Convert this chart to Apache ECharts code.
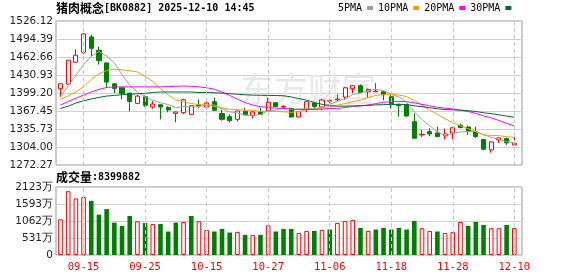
<!DOCTYPE html>
<html><head><meta charset="utf-8">
<script src="https://cdn.jsdelivr.net/npm/echarts@6/dist/echarts.min.js"></script>
<style>html,body{margin:0;padding:0;background:#fff}#c{width:578px;height:276px}</style>
</head><body><div id="c"></div>
<script>
const dates = ['09-10','09-11','09-12','09-15','09-16','09-17','09-18','09-19','09-22','09-23',
'09-24','09-25','09-26','09-29','09-30','10-09','10-10','10-13','10-14','10-15',
'10-16','10-17','10-20','10-21','10-22','10-23','10-24','10-27','10-28','10-29',
'10-30','10-31','11-03','11-04','11-05','11-06','11-07','11-10','11-11','11-12',
'11-13','11-14','11-17','11-18','11-19','11-20','11-21','11-24','11-25','11-26',
'11-27','11-28','12-01','12-02','12-03','12-04','12-05','12-08','12-09','12-10'];
const tickDates = ['09-15','09-25','10-15','10-27','11-06','11-18','11-28','12-10'];
const priceTicks = ['1272.27','1304.00','1335.73','1367.45','1399.20','1430.93','1462.66','1494.39','1526.12'];
const volTicks = ['0','531万','1062万','1593万','2123万'];
const priceMin = 1272.27, priceMax = 1526.12, volMax = 2123;

const open = [1406.7,1414.9,1453.5,1471.1,1498.0,1474.6,1452.3,1415.4,1408.4,1399.0,
1380.9,1392.6,1374.5,1378.5,1373.9,1363.3,1364.5,1361.6,1378.0,1374.5,
1383.8,1363.3,1357.5,1352.8,1366.8,1359.8,1365.7,1367.4,1382.1,1374.5,
1372.1,1356.9,1370.9,1381.5,1374.5,1385.0,1387.3,1392.0,1406.7,1411.9,
1401.4,1401.4,1401.4,1392.6,1379.1,1378.0,1348.7,1325.3,1331.1,1328.8,
1323.5,1328.8,1342.2,1339.3,1330.5,1317.1,1298.9,1316.5,1318.8,1307.7];
const close = [1415.4,1457.0,1465.8,1503.3,1478.1,1456.4,1418.4,1407.3,1398.5,1384.4,
1393.8,1377.4,1379.7,1374.5,1369.2,1365.7,1387.3,1376.8,1376.8,1381.5,
1368.6,1352.8,1350.4,1367.4,1361.0,1365.7,1361.6,1382.6,1375.6,1375.6,
1356.9,1366.3,1383.8,1375.6,1386.8,1386.2,1388.4,1408.4,1411.9,1400.2,
1405.5,1402.6,1396.1,1380.3,1376.8,1358.6,1319.4,1326.4,1327.0,1322.3,
1327.0,1338.1,1338.1,1331.1,1322.3,1300.1,1312.9,1320.0,1311.2,1310.6];
const low = [1392.0,1414.3,1453.0,1468.2,1464.0,1449.4,1407.8,1399.0,1387.9,1366.8,
1380.0,1374.5,1371.5,1352.8,1365.1,1347.5,1362.2,1361.0,1372.1,1369.8,
1367.4,1350.4,1347.5,1349.3,1359.8,1354.5,1360.4,1365.7,1374.5,1370.4,
1356.3,1356.3,1365.1,1372.1,1368.6,1381.5,1385.0,1386.8,1399.0,1399.0,
1390.9,1400.8,1386.2,1372.1,1357.5,1357.5,1319.4,1321.2,1322.9,1321.7,
1317.6,1317.6,1337.6,1325.3,1320.0,1298.3,1294.2,1311.2,1307.7,1307.7];
const high = [1416.0,1457.6,1475.8,1505.0,1502.1,1481.0,1452.5,1416.0,1409.0,1399.6,
1395.6,1394.9,1385.0,1379.0,1375.6,1366.2,1389.1,1377.0,1387.9,1385.0,
1390.9,1369.8,1361.6,1368.6,1373.3,1366.8,1373.3,1390.9,1383.2,1377.4,
1373.3,1367.4,1385.0,1382.7,1389.1,1389.1,1396.7,1410.2,1413.1,1414.3,
1407.2,1416.6,1402.6,1397.9,1380.3,1380.3,1363.3,1334.0,1337.0,1339.9,
1336.4,1338.5,1345.2,1341.7,1339.9,1318.2,1314.7,1320.5,1320.6,1322.3];

const ma5 = [1393,1412,1430,1449,1463.9,1472.1,1464.4,1452.7,1431.7,1413.0,
1400.5,1392.3,1386.8,1382.0,1378.9,1373.3,1375.3,1374.7,1375.2,1377.6,
1378.2,1371.3,1366.0,1364.1,1360.0,1359.5,1361.2,1367.7,1369.3,1372.2,
1370.5,1371.4,1371.6,1371.6,1373.9,1379.7,1384.2,1389.1,1396.3,1399.0,
1402.9,1405.7,1403.3,1396.9,1392.3,1382.9,1366.2,1352.3,1341.6,1330.7,
1324.4,1328.2,1330.5,1331.3,1331.3,1325.9,1320.9,1317.3,1313.3,1311.0];
const ma10 = [1388,1394,1401,1410,1423,1433,1439,1441,1440,1438.5,
1436.3,1428.3,1419.7,1406.9,1396.0,1386.9,1383.8,1380.7,1378.6,1378.3,
1375.8,1373.3,1370.4,1369.7,1368.8,1368.8,1366.3,1366.8,1366.7,1366.1,
1365.0,1366.3,1369.7,1370.5,1373.1,1375.1,1377.8,1380.4,1384.0,1386.5,
1391.3,1394.9,1396.2,1396.6,1395.6,1392.9,1386.0,1377.8,1369.3,1361.5,
1353.7,1347.2,1341.4,1336.5,1331.0,1325.2,1324.5,1323.9,1322.3,1321.1];
const ma20 = [1378,1384,1390,1395.5,1401,1405.5,1409,1410,1410,1410,
1410,1410,1410,1410,1410.5,1411,1411.5,1411,1410,1408.4,
1406.0,1400.8,1395.0,1388.3,1382.4,1377.9,1375.0,1373.8,1372.6,1372.2,
1370.4,1369.8,1370.0,1370.1,1370.9,1372.0,1372.0,1373.6,1375.4,1376.3,
1378.1,1380.6,1382.9,1383.6,1384.3,1384.0,1381.9,1379.1,1376.6,1374.0,
1372.5,1371.1,1368.8,1366.6,1363.3,1359.0,1355.3,1350.8,1345.8,1341.3];
const ma30 = [1372,1376,1381.5,1385.5,1388.5,1391.4,1393.8,1394.9,1396.1,1397.3,
1397.9,1398.5,1400.2,1401,1401,1401,1401,1401,1400,1400,
1399.6,1399,1398,1397,1396,1395.5,1395.2,1395,1394.7,1394.3,
1392.3,1389.3,1386.6,1382.3,1379.3,1376.9,1375.9,1376.0,1376.4,1377.0,
1377.3,1378.2,1378.7,1378.9,1379.2,1378.9,1376.7,1375.0,1373.3,1371.4,
1370.0,1369.5,1369.1,1367.9,1366.6,1364.4,1362.8,1360.7,1358.5,1356.4];

const vol = [1114,1992,1765,1806,1692,1259,1434,1011,908,1218,
1053,1001,970,970,733,1011,1032,1218,1053,784,
733,815,702,722,630,619,630,929,733,815,
815,691,753,753,784,795,1001,1063,1094,846,
753,795,846,795,846,795,1063,836,753,733,
691,722,1032,908,1032,939,836,836,939,840];
const volUp = [1,1,1,1,0,0,0,0,0,0,
1,0,1,0,0,0,1,0,1,1,
0,0,0,1,0,1,0,1,0,0,
0,1,1,0,1,0,1,1,1,0,
1,0,0,0,0,0,0,1,1,0,
1,1,1,0,0,0,1,1,0,1];

const maNames = ['5PMA','10PMA','20PMA','30PMA'];
const maColors = ['#a0a0a0','#f2a100','#ff00ff','#006b35'];
const maData = [ma5, ma10, ma20, ma30];

const RED = '#ff0000', GREEN = '#008000';
const monoFont = 'DejaVu Sans Mono';
const cjkFont = 'Noto Sans CJK SC';

const chart = echarts.init(document.getElementById('c'), null, {renderer:'canvas'});
const hidden = {show:false};
const option = {
  animation:false,
  backgroundColor:'#fff',
  title:[
    {text:'{a|猪肉概念}{b|[BK0882] 2025-12-10 14:45}', left:56, top:2, padding:0,
     textStyle:{rich:{a:{fontFamily:cjkFont,fontSize:12,color:'#000'},b:{fontFamily:monoFont,fontSize:10,color:'#000'}}}},
    {text:'{a|成交量}{b|:8399882}', left:56, top:171, padding:0,
     textStyle:{rich:{a:{fontFamily:cjkFont,fontSize:12,color:'#000'},b:{fontFamily:monoFont,fontSize:10,color:'#000'}}}}
  ],
  legend:{data:maNames, left:338, top:3, padding:0, align:'right', icon:'rect', itemWidth:6, itemHeight:4, itemGap:5,
    textStyle:{fontFamily:monoFont,fontSize:10,color:'#000'}},
  graphic:[
    {type:'text', left:240, top:72, z:1, silent:true,
     style:{text:'东方财富', fill:'#e8e8e8', font:'34px "Noto Sans CJK SC"'}}
  ],
  grid:[
    {left:56, top:21, width:466, height:144, show:true, borderColor:'#999', borderWidth:1, backgroundColor:'transparent'},
    {left:56.65, top:21, width:461.5, height:144},
    {left:56, top:187, width:466, height:68, show:true, borderColor:'#999', borderWidth:1, backgroundColor:'transparent'},
    {left:56.65, top:187, width:461.5, height:68}
  ],
  xAxis:[
    {gridIndex:0, type:'value', min:0, max:1, show:false},
    {gridIndex:1, type:'category', data:dates, boundaryGap:true, axisLine:hidden, axisTick:hidden, axisLabel:hidden, splitLine:hidden},
    {gridIndex:2, type:'value', min:0, max:1, show:false},
    {gridIndex:3, type:'category', data:dates, boundaryGap:true, axisLine:hidden, axisTick:hidden, splitLine:hidden,
     axisLabel:{show:true, color:RED, fontFamily:monoFont, fontSize:10.5, margin:7,
       interval:function(i, v){ return tickDates.indexOf(v) >= 0; }}}
  ],
  yAxis:[
    {gridIndex:0, type:'value', min:0, max:priceTicks.length-1, interval:1, axisLine:hidden, axisTick:hidden,
     axisLabel:{formatter:function(v){return priceTicks[v];}, fontFamily:'DejaVu Sans', fontSize:10.5, color:'#222', margin:3},
     splitLine:{lineStyle:{color:'#d0d0d0', width:1}}},
    {gridIndex:1, type:'value', min:priceMin, max:priceMax, show:false, splitLine:hidden},
    {gridIndex:2, type:'value', min:0, max:volTicks.length-1, interval:1, axisLine:hidden, axisTick:hidden,
     axisLabel:{formatter:function(v){return volTicks[v];}, fontFamily:'DejaVu Sans', fontSize:10.5, color:'#222', margin:3},
     splitLine:{lineStyle:{color:'#d0d0d0', width:1}}},
    {gridIndex:3, type:'value', min:0, max:volMax, show:false, splitLine:hidden}
  ],
  series:[
    {type:'line', xAxisIndex:1, yAxisIndex:1, data:dates.map(function(){return null;}), z:1, silent:true, showSymbol:false,
     markLine:{symbol:'none', silent:true, label:{show:false}, animation:false,
       lineStyle:{type:[4,3], color:'#c8c8c8', width:1}, data:tickDates.map(function(d){return {xAxis:d};})}},
    {type:'line', xAxisIndex:3, yAxisIndex:3, data:dates.map(function(){return null;}), z:1, silent:true, showSymbol:false,
     markLine:{symbol:'none', silent:true, label:{show:false}, animation:false,
       lineStyle:{type:[4,3], color:'#c8c8c8', width:1}, data:tickDates.map(function(d){return {xAxis:d};})}},
    {type:'candlestick', name:'K', xAxisIndex:1, yAxisIndex:1, barWidth:4.6, z:3,
     data:dates.map(function(d,i){return [open[i], close[i], low[i], high[i]];}),
     itemStyle:{color:'#fff', color0:GREEN, borderColor:RED, borderColor0:GREEN, borderWidth:1}}
  ].concat(maNames.map(function(n, k){
    return {type:'line', name:n, xAxisIndex:1, yAxisIndex:1, data:maData[k], showSymbol:false, symbol:'none', z:4,
      lineStyle:{color:maColors[k], width:1}, itemStyle:{color:maColors[k]}};
  })).concat([
    {type:'bar', xAxisIndex:3, yAxisIndex:3, barWidth:4.6, z:3,
     data:vol.map(function(v,i){
       return {value:v, itemStyle: volUp[i] ? {color:'#fff', borderColor:RED, borderWidth:1} : {color:GREEN}};
     })}
  ])
};
chart.setOption(option);
</script></body></html>
